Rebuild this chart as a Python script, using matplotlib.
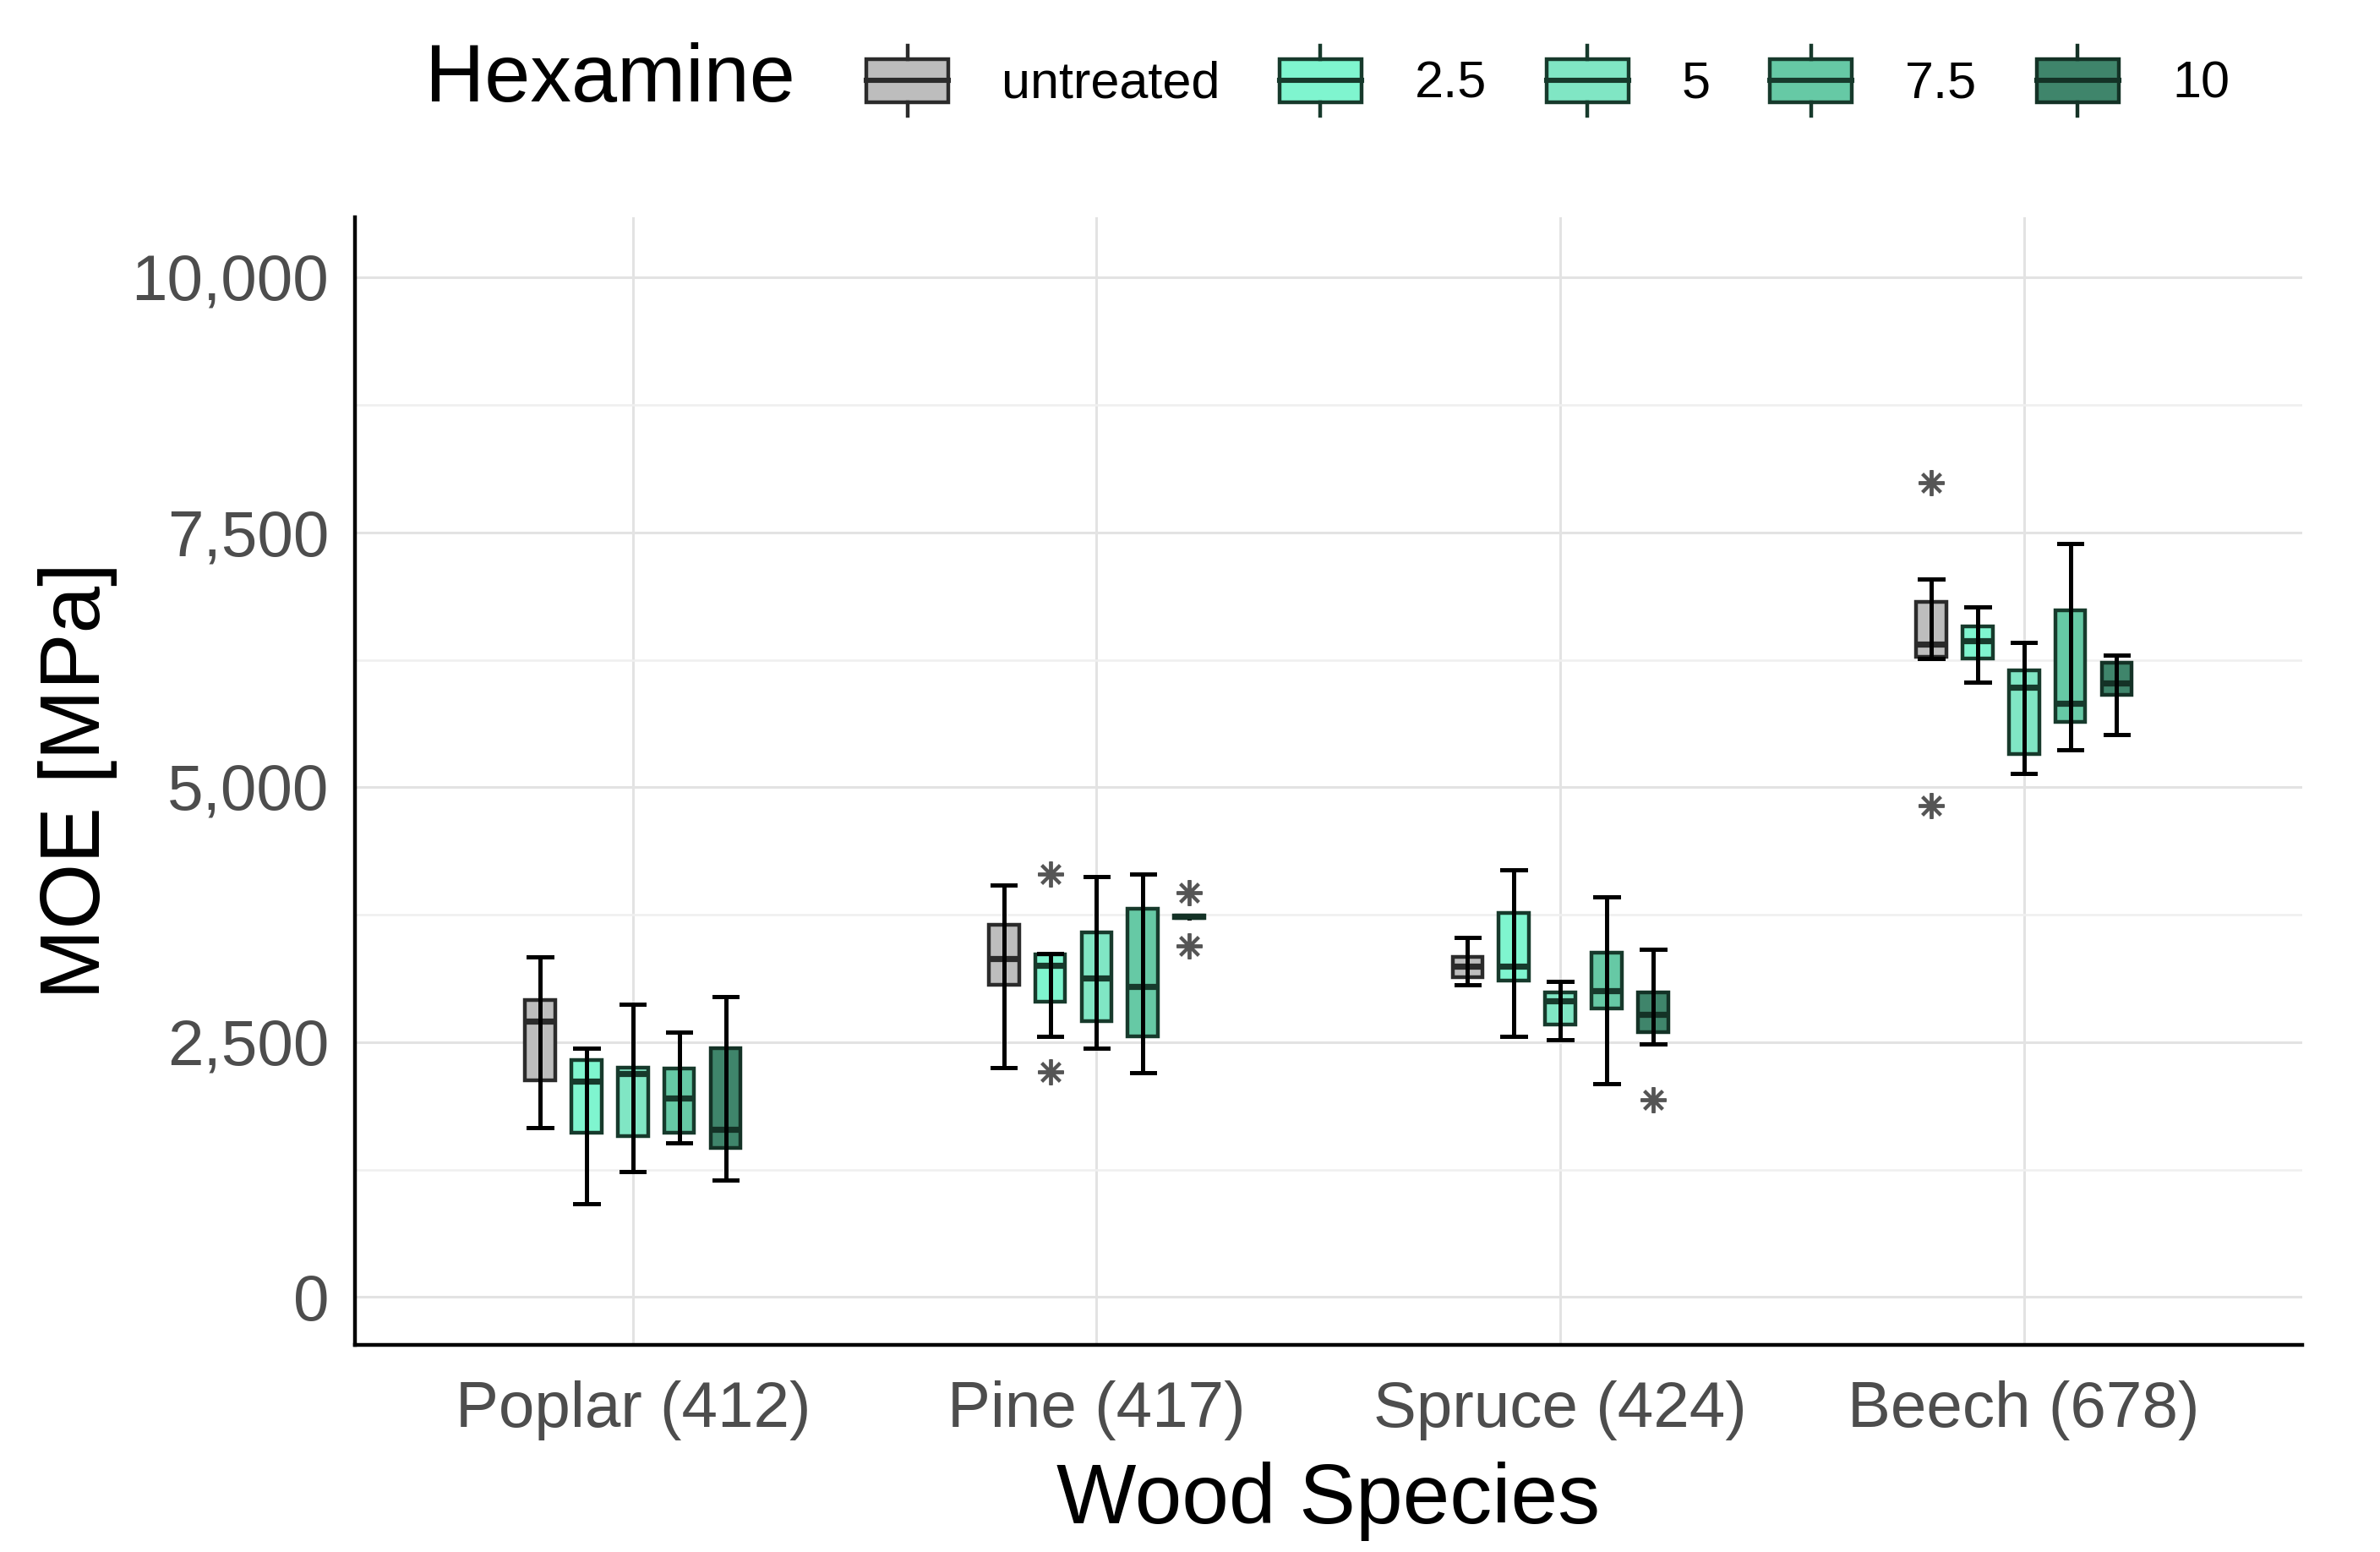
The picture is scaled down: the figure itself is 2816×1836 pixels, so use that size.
import numpy as np
import matplotlib
matplotlib.use('Agg')
import matplotlib.pyplot as plt
from matplotlib.legend_handler import HandlerBase
from matplotlib.patches import Rectangle, Patch
from matplotlib.lines import Line2D
from matplotlib.ticker import FuncFormatter, MultipleLocator

plt.rcParams['font.family'] = ['Liberation Sans', 'DejaVu Sans']

species = ['Poplar (412)', 'Pine (417)', 'Spruce (424)', 'Beech (678)']
levels = ['untreated', '2.5', '5', '7.5', '10']
fills = ['#bdbdbd', '#7ff5cf', '#80e6c4', '#66c9a5', '#3f856b']
edges = ['#2b2b2b', '#173a2c', '#173a2c', '#173a2c', '#143226']

# five-number summaries per level, one value per species (MPa)
whislo = {
    'untreated': [1660, 2251, 3062, 6266],
    '2.5':       [917, 2559, 2559, 6032],
    '5':         [1233, 2438, 2520, 5133],
    '7.5':       [1508, 2201, 2091, 5364],
    '10':        [1151, 3731, 2485, 5518],
}
q1 = {
    'untreated': [2127, 3062, 3137, 6280],
    '2.5':       [1613, 2897, 3104, 6266],
    '5':         [1577, 2705, 2669, 5325],
    '7.5':       [1613, 2553, 2828, 5639],
    '10':        [1459, 3720, 2595, 5909],
}
median = {
    'untreated': [2705, 3323, 3241, 6404],
    '2.5':       [2119, 3255, 3246, 6437],
    '5':         [2196, 3125, 2906, 5977],
    '7.5':       [1954, 3048, 3007, 5820],
    '10':        [1646, 3731, 2774, 6024],
}
q3 = {
    'untreated': [2911, 3653, 3337, 6816],
    '2.5':       [2328, 3360, 3769, 6577],
    '5':         [2251, 3576, 2988, 6148],
    '7.5':       [2245, 3805, 3378, 6734],
    '10':        [2443, 3742, 2988, 6225],
}
whishi = {
    'untreated': [3337, 4038, 3530, 7041],
    '2.5':       [2443, 3370, 4190, 6767],
    '5':         [2870, 4121, 3098, 6417],
    '7.5':       [2595, 4148, 3923, 7394],
    '10':        [2944, 3731, 3411, 6293],
}
outliers = {
    'untreated': [[], [], [], [7984, 4822]],
    '2.5':       [[], [4148, 2210], [], []],
    '5':         [[], [], [], []],
    '7.5':       [[], [], [], []],
    '10':        [[], [3962, 3447], [1935], []],
}

offsets = [-0.2, -0.1, 0.0, 0.1, 0.2]
box_w = 0.065


class HandlerBoxKey(HandlerBase):
    def create_artists(self, legend, orig_handle, xdescent, ydescent,
                       width, height, fontsize, trans):
        fc = orig_handle.get_facecolor()
        ec = orig_handle.get_edgecolor()
        x0, y0 = -xdescent, -ydescent
        bh = height * 0.62
        by = y0 + (height - bh) / 2
        rect = Rectangle((x0, by), width, bh, facecolor=fc, edgecolor=ec,
                         lw=1.6, transform=trans)
        med = Line2D([x0, x0 + width], [y0 + height / 2] * 2, color=ec,
                     lw=2.2, transform=trans)
        cx = x0 + width / 2
        w1 = Line2D([cx, cx], [by + bh, y0 + height], color=ec, lw=1.6,
                    transform=trans)
        w2 = Line2D([cx, cx], [y0, by], color=ec, lw=1.6, transform=trans)
        return [rect, med, w1, w2]


fig = plt.figure(figsize=(14.08, 9.18), dpi=200)
ax = fig.add_axes([0.149, 0.1334, 0.8183, 0.7266])

xs = np.arange(1, len(species) + 1)
for k, lev in enumerate(levels):
    stats = []
    for i in range(len(species)):
        stats.append(dict(med=median[lev][i], q1=q1[lev][i], q3=q3[lev][i],
                          whislo=whislo[lev][i], whishi=whishi[lev][i],
                          fliers=outliers[lev][i]))
    pos = xs + offsets[k]
    ax.bxp(stats, positions=pos, widths=box_w,
           patch_artist=True, showfliers=True, manage_ticks=False,
           boxprops=dict(facecolor=fills[k], edgecolor=edges[k], lw=1.6),
           medianprops=dict(color=edges[k], lw=2.6),
           whiskerprops=dict(color='black', lw=1.8),
           capprops=dict(color='black', lw=1.8),
           capwidths=0.05,
           flierprops=dict(marker=(8, 2, 0), markersize=11,
                           markeredgecolor='#555555', markeredgewidth=1.4,
                           linestyle='none'),
           zorder=3)
    # errorbar-style whisker line drawn through the box
    ax.vlines(pos, whislo[lev], whishi[lev], color='black', lw=1.8, zorder=4)

ax.set_xlim(0.4, 4.6)
ax.set_ylim(-470, 10590)
ax.set_xticks(xs)
ax.set_xticklabels(species)
ax.yaxis.set_major_locator(MultipleLocator(2500))
ax.yaxis.set_minor_locator(MultipleLocator(1250))
ax.yaxis.set_major_formatter(FuncFormatter(lambda v, p: f'{int(v):,}'))

ax.grid(True, which='major', color='#e3e3e3', lw=1.1, zorder=0)
ax.grid(True, which='minor', axis='y', color='#efefef', lw=0.9, zorder=0)
ax.set_axisbelow(True)
for s in ['top', 'right']:
    ax.spines[s].set_visible(False)
for s in ['left', 'bottom']:
    ax.spines[s].set_linewidth(1.6)
    ax.spines[s].set_color('black')

ax.tick_params(axis='both', which='both', length=0, labelsize=27.5,
               labelcolor='#4d4d4d')
ax.tick_params(axis='y', pad=11)
ax.tick_params(axis='x', pad=15)
ax.set_xlabel('Wood Species', fontsize=36, labelpad=9)
ax.set_ylabel('MOE [MPa]', fontsize=36, labelpad=6)

handles = [Patch(facecolor=f, edgecolor=e) for f, e in zip(fills, edges)]
fig.text(0.1786, 0.948, 'Hexamine', fontsize=35, va='center', ha='left')
fig.legend(handles, levels, handler_map={Patch: HandlerBoxKey()},
           loc='center left', bbox_to_anchor=(0.364, 0.948), ncol=5,
           frameon=False, fontsize=22, handlelength=1.59, handleheight=1.7,
           handletextpad=1.03, columnspacing=1.15, borderaxespad=0,
           borderpad=0)

fig.savefig('out.png', dpi=200)
